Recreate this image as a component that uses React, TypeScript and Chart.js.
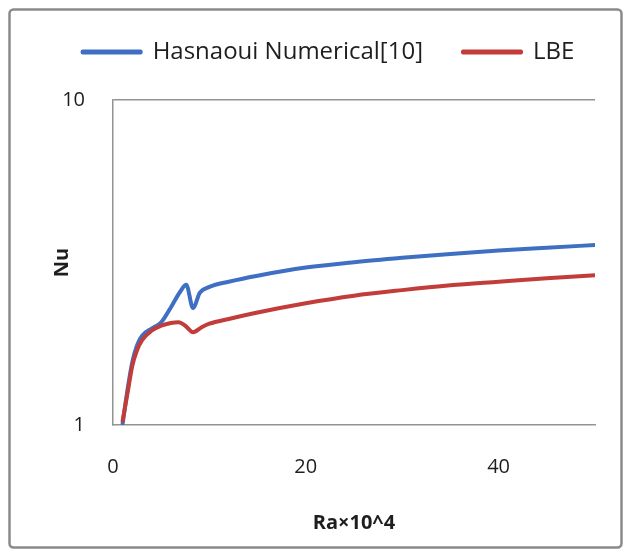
import React, { useEffect, useRef } from 'react';
import { Chart, registerables } from 'chart.js';

Chart.register(...registerables);

const seriesNames = ['Hasnaoui Numerical[10]', 'LBE'];

const raBlue = [1, 1.5, 2, 2.5, 3, 4, 5, 6, 7, 7.6, 8.3, 9, 10, 12, 15, 20, 25, 30, 35, 40, 45, 50];
const nuBlue = [1.01, 1.28, 1.56, 1.76, 1.88, 1.98, 2.07, 2.3, 2.58, 2.7, 2.29, 2.55, 2.66, 2.76, 2.88, 3.05, 3.17, 3.27, 3.36, 3.44, 3.51, 3.58];

const raRed = [1, 1.5, 2, 2.5, 3, 4, 5, 6, 6.8, 7.5, 8.3, 9.2, 10, 12, 15, 20, 25, 30, 35, 40, 45, 50];
const nuRed = [1.03, 1.25, 1.52, 1.7, 1.82, 1.95, 2.02, 2.06, 2.07, 2.02, 1.93, 2.0, 2.05, 2.12, 2.22, 2.37, 2.5, 2.6, 2.69, 2.76, 2.83, 2.89];

const xTicks = [0, 20, 40];
const yTicks = [1, 10];

const BLUE = '#3f6fc3';
const RED = '#c23c3a';
const GRAY = '#939393';
const TEXT = '#1e1e1e';
const FAMILY = "'Open Sans', sans-serif";

export default function App() {
  const ref = useRef<HTMLCanvasElement>(null);

  useEffect(() => {
    if (!ref.current) return;

    const frame = {
      id: 'frame',
      beforeDraw(chart: any) {
        const ctx = chart.ctx;
        ctx.save();
        ctx.fillStyle = '#ffffff';
        ctx.fillRect(0, 0, chart.width, chart.height);
        ctx.strokeStyle = '#8a8a8a';
        ctx.lineWidth = 2.5;
        ctx.beginPath();
        (ctx as any).roundRect(9.5, 9.5, 612, 538, 4);
        ctx.stroke();
        ctx.restore();
      },
    };

    const legendTweak = {
      id: 'legendTweak',
      beforeLayout(chart: any) {
        const lg = chart.legend;
        if (lg && !lg.__patched) {
          const orig = lg.fit.bind(lg);
          lg.fit = () => {
            orig();
            lg.height += 26;
          };
          lg.__patched = true;
        }
      },
      afterLayout(chart: any) {
        const lg = chart.legend;
        if (lg) {
          lg.left += 31;
          lg.right += 31;
        }
      },
    };

    const chart = new Chart(ref.current, {
      type: 'line',
      data: {
        datasets: [
          {
            label: seriesNames[0],
            data: raBlue.map((x, i) => ({ x, y: nuBlue[i] })),
            borderColor: BLUE,
            backgroundColor: BLUE,
            borderWidth: 4,
            borderCapStyle: 'round',
            borderJoinStyle: 'round',
            pointRadius: 0,
            cubicInterpolationMode: 'monotone',
            order: 2,
          },
          {
            label: seriesNames[1],
            data: raRed.map((x, i) => ({ x, y: nuRed[i] })),
            borderColor: RED,
            backgroundColor: RED,
            borderWidth: 4,
            borderCapStyle: 'round',
            borderJoinStyle: 'round',
            pointRadius: 0,
            cubicInterpolationMode: 'monotone',
            order: 1,
          },
        ],
      },
      options: {
        responsive: false,
        animation: false,
        layout: { padding: { left: 0, right: 36, top: 0, bottom: 0 } },
        plugins: {
          legend: {
            display: true,
            position: 'top',
            labels: {
              font: { family: FAMILY, size: 24 },
              color: TEXT,
              boxWidth: 58,
              boxHeight: 1,
              padding: 40,
              sort: (a: any, b: any) => a.datasetIndex - b.datasetIndex,
            },
          },
          tooltip: { enabled: false },
        },
        scales: {
          x: {
            type: 'linear',
            min: 0,
            max: 50,
            afterBuildTicks: (s: any) => {
              s.ticks = xTicks.map((v) => ({ value: v }));
            },
            afterFit: (s: any) => {
              s.height = 131;
            },
            grid: { display: false, drawTicks: false },
            border: { display: true, color: GRAY, width: 1.5 },
            ticks: {
              padding: 30,
              maxRotation: 0,
              font: { family: FAMILY, size: 20 },
              color: TEXT,
              callback: (v: any) => String(v),
            },
            title: {
              display: true,
              text: 'Ra×10^4',
              color: TEXT,
              font: { family: FAMILY, size: 20, weight: 'bold' },
              padding: { top: 0, bottom: 21 },
            },
          },
          y: {
            type: 'logarithmic',
            min: 1,
            max: 10,
            afterBuildTicks: (s: any) => {
              s.ticks = yTicks.map((v) => ({ value: v }));
            },
            afterFit: (s: any) => {
              s.width = 113;
            },
            grid: {
              drawTicks: false,
              color: (c: any) => (c.tick && c.tick.value === 10 ? GRAY : 'rgba(0,0,0,0)'),
              lineWidth: 1.5,
            },
            border: { display: true, color: GRAY, width: 1.5 },
            ticks: {
              padding: 28,
              font: { family: FAMILY, size: 20 },
              color: TEXT,
              callback: (v: any) => String(v),
            },
            title: {
              display: true,
              text: 'Nu',
              color: TEXT,
              font: { family: FAMILY, size: 20, weight: 'bold' },
              padding: { top: 50, bottom: 0 },
            },
          },
        },
      } as any,
      plugins: [frame, legendTweak],
    });

    return () => chart.destroy();
  }, []);

  return (
    <div style={{ position: 'absolute', left: 0, top: 0, width: 631, height: 556 }}>
      <canvas ref={ref} width={631} height={556} style={{ display: 'block' }} />
    </div>
  );
}
